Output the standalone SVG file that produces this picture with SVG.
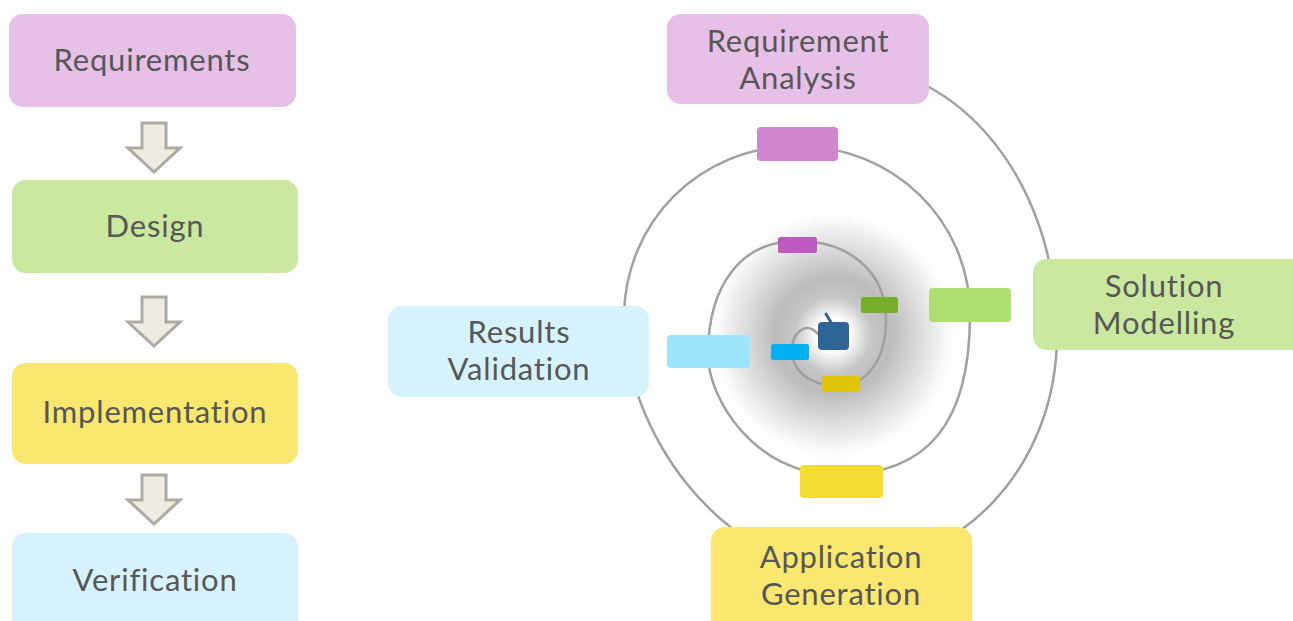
<svg xmlns="http://www.w3.org/2000/svg" width="1293" height="621" viewBox="0 0 1293 621">
<style>
.lbl{font-family:Lato,"Open Sans","Liberation Sans",sans-serif;font-size:31px;letter-spacing:0.8px;fill:#575757;text-anchor:middle}
.pink{fill:#e6c0e6}.green{fill:#cbe8a1}.yellow{fill:#f9e76f}.cyan{fill:#d6f3fd}
.arrow{fill:#eeece1;stroke:#aeaaa2;stroke-width:3}
.spiral{fill:none;stroke:#a0a0a0;stroke-width:2.5;stroke-linecap:round}
</style>
<defs>
<radialGradient id="glow" cx="833" cy="335" r="128" gradientUnits="userSpaceOnUse">
<stop offset="0" stop-color="#ffffff"/>
<stop offset="0.13" stop-color="#ffffff"/>
<stop offset="0.3" stop-color="#c6c6c6"/>
<stop offset="0.45" stop-color="#bcbcbc"/>
<stop offset="0.65" stop-color="#d8d8d8"/>
<stop offset="0.85" stop-color="#f3f3f3"/>
<stop offset="1" stop-color="#ffffff" stop-opacity="0"/>
</radialGradient>
<path id="dn" class="arrow" d="M-12,0 H12 V25 H26 L0,49 L-26,25 H-12 Z"/>
</defs>
<rect width="1293" height="621" fill="#ffffff"/>
<circle cx="833" cy="335" r="128" fill="url(#glow)"/>
<g id="connectors">
<use href="#dn" x="154" y="123"/>
<use href="#dn" x="154" y="297"/>
<use href="#dn" x="154" y="475"/>
<path class="spiral" stroke-width="3" d="M840,64 C961.5,64 1057,183.2 1057,335 C1057,465.5 962.4,568 842,568 C720,568 624,428 624,318 C624,221.7 700.1,146 797,146"/>
<path class="spiral" d="M797,146 C893.9,146 970,220.4 970,315 C970,421.8 928.7,475 838,475 C753.5,475 708,397 708,355 C708,284.3 741.8,241 797,241 C850.4,241 886,272.6 886,320 C886,359.6 866.8,386 838,386 C810.4,386 792,371.6 792,350 C792,333 806,320 818,334"/>
</g>
<g id="center">
<line x1="826" y1="314" x2="832" y2="324" stroke="#2f6496" stroke-width="3" stroke-linecap="round"/>
<rect x="818" y="322" width="31" height="28" rx="4" fill="#2f6496"/>
</g>
<g id="inner-markers">
<rect x="778" y="237" width="39" height="16" rx="2.5" fill="#bd59bf"/>
<rect x="861" y="297" width="37" height="16" rx="2.5" fill="#78ad2a"/>
<rect x="822" y="376" width="38" height="16" rx="2.5" fill="#e0c50a"/>
<rect x="771" y="344" width="38" height="16" rx="2.5" fill="#00b0f0"/>
</g>
<g id="middle-markers">
<rect x="757" y="127" width="81" height="34" rx="4" fill="#cf86cf"/>
<rect x="929" y="288" width="82" height="34" rx="4" fill="#afdf72"/>
<rect x="800" y="465" width="83" height="33" rx="4" fill="#f5dd31"/>
<rect x="667" y="335" width="83" height="33" rx="4" fill="#9ce5fd"/>
</g>
<g id="requirements">
<rect class="pink" x="9" y="14" width="287" height="93" rx="14"/>
<text class="lbl" x="152" y="71">Requirements</text>
</g>
<g id="design">
<rect class="green" x="12" y="180" width="286" height="93" rx="14"/>
<text class="lbl" x="155" y="237">Design</text>
</g>
<g id="implementation">
<rect class="yellow" x="12" y="363" width="286" height="101" rx="14"/>
<text class="lbl" x="155" y="423">Implementation</text>
</g>
<g id="verification">
<rect class="cyan" x="12" y="533" width="286" height="102" rx="14"/>
<text class="lbl" x="155" y="591">Verification</text>
</g>
<g id="requirement-analysis">
<rect class="pink" x="667" y="14" width="262" height="90" rx="14"/>
<text class="lbl" x="798" y="52">Requirement</text>
<text class="lbl" x="798" y="89">Analysis</text>
</g>
<g id="solution-modelling">
<rect class="green" x="1033" y="259" width="275" height="91" rx="14"/>
<text class="lbl" x="1164" y="297">Solution</text>
<text class="lbl" x="1164" y="334">Modelling</text>
</g>
<g id="results-validation">
<rect class="cyan" x="388" y="306" width="261" height="91" rx="14"/>
<text class="lbl" x="519" y="343">Results</text>
<text class="lbl" x="519" y="380">Validation</text>
</g>
<g id="application-generation">
<rect class="yellow" x="711" y="527" width="261" height="108" rx="14"/>
<text class="lbl" x="841" y="568">Application</text>
<text class="lbl" x="841" y="605">Generation</text>
</g>
</svg>
